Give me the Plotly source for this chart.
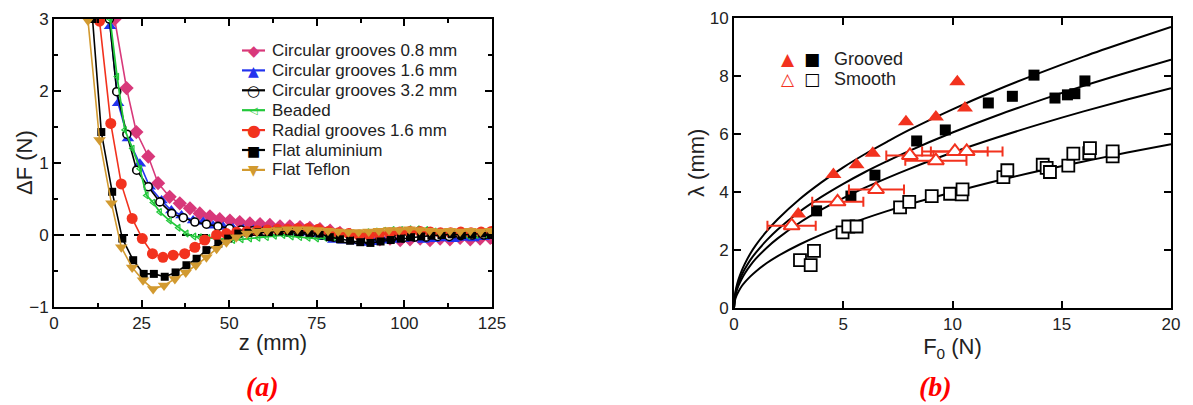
import plotly.graph_objects as go

# ---------------- Panel (a) data: z (mm) vs ΔF (N) ----------------
z_cg08 = [17.3, 20.7, 23.5, 26.9, 29.7, 33.0, 35.9, 38.8, 41.6, 44.5, 47.3, 50.2, 53.0, 55.9, 58.8,
          61.6, 64.5, 67.3, 70.2, 73.0, 75.9, 78.8, 81.6, 84.5, 87.3, 90.2, 93.0, 95.9, 98.8, 101.6,
          104.5, 107.3, 110.2, 113.0, 115.9, 118.8, 121.6, 124.5]
dF_cg08 = [3.0, 2.04, 1.43, 1.09, 0.72, 0.53, 0.44, 0.37, 0.30, 0.26, 0.22, 0.20, 0.18, 0.16, 0.15,
           0.14, 0.12, 0.12, 0.11, 0.10, 0.08, 0.06, 0.03, 0.0, -0.03, -0.05, -0.06, -0.05, -0.07, -0.06,
           -0.05, -0.07, -0.05, -0.06, -0.04, -0.06, -0.05, -0.04]

z_cg16 = [16.0, 18.3, 21.1, 24.5, 27.3, 30.7, 33.5, 36.4, 39.7, 42.6, 45.4, 48.3, 51.1, 54.0, 56.9,
          59.7, 62.6, 65.4, 68.3, 71.1, 74.0, 76.9, 79.7, 82.6, 85.4, 88.3, 91.1, 94.0, 96.9, 99.7,
          102.6, 105.4, 108.3, 111.1, 114.0, 116.9, 119.7, 122.6, 124.8]
dF_cg16 = [2.9, 1.83, 1.34, 0.99, 0.67, 0.48, 0.34, 0.27, 0.20, 0.18, 0.13, 0.11, 0.09, 0.08, 0.07,
           0.06, 0.06, 0.05, 0.04, 0.03, 0.01, -0.03, -0.07, -0.08, -0.09, -0.11, -0.10, -0.08, -0.07, -0.06,
           -0.05, -0.07, -0.06, -0.05, -0.06, -0.04, -0.05, -0.03, 0.0]

z_cg32 = [15.8, 17.9, 20.8, 23.6, 26.9, 30.2, 33.6, 36.9, 40.2, 43.5, 46.8, 50.1, 53.4, 56.7, 60.0,
          63.3, 66.6, 69.9, 73.2, 76.5, 79.8, 83.1, 86.4, 89.7, 93.0, 96.3, 99.6, 102.9, 106.2, 109.5,
          112.8, 116.1, 119.4, 122.7]
dF_cg32 = [3.0, 1.99, 1.40, 0.90, 0.67, 0.46, 0.30, 0.24, 0.18, 0.15, 0.12, 0.09, 0.07, 0.06, 0.05,
           0.05, 0.04, 0.03, 0.02, 0.0, -0.03, -0.05, -0.06, -0.07, -0.06, -0.05, -0.04, -0.03, -0.03, -0.02,
           -0.02, -0.01, 0.0, 0.0]

z_bead = [16.0, 18.0, 20.2, 22.4, 24.5, 26.4, 28.3, 30.2, 33.0, 35.5, 37.8, 40.0, 41.6, 44.0, 46.4,
          48.8, 51.1, 53.5, 55.9, 58.3, 60.7, 63.0, 65.4, 67.8, 70.2, 72.6, 75.0, 77.4, 79.8, 82.2,
          84.6, 87.0, 89.4, 91.8, 94.2, 96.6, 99.0, 101.4, 103.8, 106.2, 108.6, 111.0, 113.4, 115.8, 118.2,
          120.6, 123.0, 125.0]
dF_bead = [3.0, 2.2, 1.46, 1.2, 0.92, 0.55, 0.45, 0.32, 0.2, 0.1, 0.02, -0.02, -0.03, -0.04, -0.05,
           -0.06, -0.07, -0.06, -0.05, -0.04, -0.03, -0.01, 0.0, -0.02, -0.03, -0.04, -0.05, -0.04, -0.03, -0.02,
           0.0, 0.02, 0.04, 0.05, 0.06, 0.07, 0.07, 0.08, 0.08, 0.07, 0.05, 0.03, 0.01, 0.0, -0.01,
           0.0, 0.01, 0.0]

z_rad = [13.0, 16.2, 19.2, 22.3, 25.2, 28.1, 31.1, 34.0, 37.3, 40.2, 43.0, 46.4, 49.2, 52.1, 55.0,
         58.0, 60.9, 63.8, 66.7, 69.6, 72.5, 75.4, 78.3, 81.2, 84.1, 87.0, 90.0, 92.9, 95.8, 98.7,
         101.6, 104.5, 107.4, 110.3, 113.2, 116.1, 119.0, 121.9, 124.8]
dF_rad = [2.97, 1.55, 0.71, 0.23, -0.05, -0.26, -0.31, -0.28, -0.26, -0.17, -0.07, 0.0, 0.02, 0.04, 0.05,
          0.06, 0.07, 0.08, 0.08, 0.09, 0.09, 0.08, 0.05, 0.03, 0.02, 0.0, 0.0, 0.01, 0.03, 0.04,
          0.05, 0.05, 0.04, 0.03, 0.03, 0.04, 0.03, 0.04, 0.05]

z_al = [11.0, 13.5, 16.6, 19.5, 22.6, 25.6, 28.5, 31.6, 34.7, 37.8, 40.7, 43.5, 46.9, 49.7, 52.6,
        55.5, 58.4, 61.3, 64.2, 67.1, 70.0, 72.9, 75.8, 78.7, 81.6, 84.5, 87.4, 90.3, 93.2, 96.1,
        99.0, 101.9, 104.8, 107.7, 110.6, 113.5, 116.4, 119.3, 122.2, 124.8]
dF_al = [3.0, 1.43, 0.6, -0.05, -0.35, -0.54, -0.54, -0.58, -0.52, -0.42, -0.33, -0.21, -0.12, -0.05, 0.02,
         0.03, 0.04, 0.04, 0.05, 0.05, 0.04, 0.03, 0.02, -0.03, -0.06, -0.08, -0.1, -0.11, -0.09, -0.07,
         -0.05, -0.03, -0.02, -0.01, 0.0, 0.01, 0.0, 0.01, 0.02, 0.0]

z_tef = [9.7, 13.0, 16.4, 19.2, 22.3, 25.4, 28.3, 31.4, 34.5, 37.6, 40.5, 43.5, 46.4, 49.2, 52.0,
         55.0, 57.9, 60.8, 63.7, 66.6, 69.5, 72.4, 75.3, 78.2, 81.1, 84.0, 86.9, 89.8, 92.7, 95.6,
         98.5, 101.4, 104.3, 107.2, 110.1, 113.0, 115.9, 118.8, 121.7, 124.6]
dF_tef = [2.98, 1.32, 0.44, -0.17, -0.45, -0.63, -0.75, -0.7, -0.61, -0.52, -0.42, -0.31, -0.19, -0.1, -0.03,
          0.02, 0.05, 0.06, 0.07, 0.08, 0.08, 0.08, 0.07, 0.06, 0.05, 0.04, 0.04, 0.05, 0.06, 0.07,
          0.07, 0.08, 0.07, 0.06, 0.05, 0.06, 0.05, 0.06, 0.05, 0.06]

# ---------------- Panel (b) data: F0 (N) vs λ (mm) ----------------
gr_tri_F = [2.94, 4.55, 5.61, 6.35, 7.87, 9.24, 10.22, 10.57]
gr_tri_L = [3.24, 4.6, 4.94, 5.34, 6.42, 6.59, 7.8, 6.9]

gr_sq_F = [3.78, 5.35, 6.45, 8.36, 9.67, 11.64, 12.74, 13.73, 14.69, 15.26, 15.6, 16.06]
gr_sq_L = [3.35, 3.86, 4.58, 5.76, 6.14, 7.07, 7.3, 8.03, 7.24, 7.35, 7.39, 7.83]

sm_tri_F = [2.64, 4.74, 6.5, 8.05, 9.24, 10.11, 10.65]
sm_tri_L = [2.84, 3.66, 4.09, 5.26, 5.08, 5.4, 5.4]
sm_tri_err_minus = [1.11, 1.16, 1.24, 1.08, 1.4, 1.5, 1.64]
sm_tri_err_plus = [1.10, 1.18, 1.28, 1.08, 1.4, 1.5, 1.64]

sm_sq_F = [3.02, 3.51, 3.66, 4.97, 5.23, 5.61, 7.6, 8.02, 9.05, 9.89, 10.42, 10.46, 12.33, 12.51,
           14.13, 14.31, 14.46, 15.3, 15.53, 16.26, 16.29, 17.33, 17.33]
sm_sq_L = [1.65, 1.48, 1.97, 2.61, 2.81, 2.81, 3.47, 3.66, 3.86, 3.94, 3.92, 4.09, 4.51, 4.75,
           4.94, 4.83, 4.69, 4.91, 5.32, 5.34, 5.51, 5.23, 5.4]

fit_F = [0, 0.05, 0.1, 0.2, 0.35, 0.5, 0.75, 1, 1.5, 2, 3, 4, 5, 6, 7, 8, 10, 12, 14, 16, 18, 20]
fit_1 = [0, 0.48, 0.69, 0.97, 1.28, 1.53, 1.88, 2.17, 2.65, 3.06, 3.75, 4.33, 4.85, 5.31, 5.73, 6.13,
         6.85, 7.51, 8.11, 8.67, 9.19, 9.69]
fit_2 = [0, 0.43, 0.61, 0.86, 1.13, 1.35, 1.66, 1.91, 2.34, 2.71, 3.32, 3.83, 4.28, 4.69, 5.06, 5.41,
         6.05, 6.63, 7.16, 7.66, 8.12, 8.56]
fit_3 = [0, 0.38, 0.54, 0.76, 1.00, 1.20, 1.47, 1.70, 2.08, 2.40, 2.94, 3.39, 3.79, 4.15, 4.48, 4.79,
         5.36, 5.87, 6.34, 6.78, 7.19, 7.58]
fit_4 = [0, 0.28, 0.40, 0.56, 0.75, 0.89, 1.09, 1.26, 1.55, 1.79, 2.19, 2.53, 2.82, 3.09, 3.34, 3.57,
         3.99, 4.38, 4.73, 5.05, 5.36, 5.65]

legend_a = ["Circular grooves 0.8 mm", "Circular grooves 1.6 mm", "Circular grooves 3.2 mm",
            "Beaded", "Radial grooves 1.6 mm", "Flat aluminium", "Flat Teflon"]

FONT = "Liberation Sans, Arial, Helvetica, sans-serif"
W, H = 1193, 405
OFF = 8  # page body margin of the browser: shift layout so the photo lines up


def px(x, y):
    """screen pixel -> paper coordinate"""
    return (x - OFF) / W, 1 - (y - OFF) / H


def dom_x(a, b):
    return [(a - OFF) / W, (b - OFF) / W]


def dom_y(top, bottom):
    return [1 - (bottom - OFF) / H, 1 - (top - OFF) / H]


fig = go.Figure()

pink, blue, green, red, gold = "#d8387a", "#2233ee", "#22c83a", "#f2321e", "#d29a30"


def add_a(x, y, color, symbol, size, fill=None, lw=1.6):
    fig.add_trace(go.Scatter(
        x=x, y=y, mode="lines+markers", showlegend=False,
        line=dict(color=color, width=lw),
        marker=dict(symbol=symbol, size=size, color=fill if fill else color,
                    line=dict(color=color, width=1.6 if fill else 0)),
        xaxis="x", yaxis="y"))


add_a(z_cg08, dF_cg08, pink, "diamond", 11)
add_a(z_cg16, dF_cg16, blue, "triangle-up", 11)
add_a(z_cg32, dF_cg32, "black", "circle", 8, fill="white")
fig.add_trace(go.Scatter(
    x=z_bead, y=dF_bead, mode="lines+markers", showlegend=False,
    line=dict(color=green, width=1.8),
    marker=dict(symbol="triangle-left-open", size=6, color=green, line=dict(color=green, width=1.2)),
    xaxis="x", yaxis="y"))
add_a(z_rad, dF_rad, red, "circle", 11)
add_a(z_al, dF_al, "black", "square", 8)
add_a(z_tef, dF_tef, gold, "triangle-down", 11)

# ---- panel (b) traces
for fy in (fit_1, fit_2, fit_3, fit_4):
    fig.add_trace(go.Scatter(x=fit_F, y=fy, mode="lines", line=dict(color="black", width=2, shape="spline"),
                             showlegend=False, xaxis="x2", yaxis="y2", hoverinfo="skip"))

fig.add_trace(go.Scatter(x=sm_sq_F, y=sm_sq_L, mode="markers", showlegend=False, xaxis="x2", yaxis="y2",
                         marker=dict(symbol="square", size=12, color="white", line=dict(color="black", width=1.8))))
fig.add_trace(go.Scatter(x=gr_sq_F, y=gr_sq_L, mode="markers", showlegend=False, xaxis="x2", yaxis="y2",
                         marker=dict(symbol="square", size=11, color="black")))
fig.add_trace(go.Scatter(x=sm_tri_F, y=sm_tri_L, mode="markers", showlegend=False, xaxis="x2", yaxis="y2",
                         error_x=dict(type="data", symmetric=False, array=sm_tri_err_plus,
                                      arrayminus=sm_tri_err_minus, color=red, thickness=2, width=5),
                         marker=dict(symbol="triangle-up", size=14, color="white", line=dict(color=red, width=2))))
fig.add_trace(go.Scatter(x=gr_tri_F, y=gr_tri_L, mode="markers", showlegend=False, xaxis="x2", yaxis="y2",
                         marker=dict(symbol="triangle-up", size=14, color=red)))


# ---- axes
def axis_style(**kw):
    d = dict(showline=True, linecolor="black", linewidth=2, mirror="ticks", ticks="inside",
             ticklen=7, tickwidth=2, tickcolor="black", showgrid=False, zeroline=False,
             tickfont=dict(family=FONT, size=17, color="#222"), automargin=False,
             ticklabeloverflow="allow",
             title_font=dict(family=FONT, size=22, color="#222"))
    d.update(kw)
    return d


fig.update_layout(
    width=W, height=H, margin=dict(l=0, r=0, t=0, b=0),
    paper_bgcolor="white", plot_bgcolor="white", showlegend=False,
    xaxis=axis_style(domain=dom_x(54, 492), range=[0, 125], tickvals=[0, 25, 50, 75, 100, 125],
                     minor=dict(ticks="inside", ticklen=4, tickwidth=1.5, dtick=12.5, tickcolor="black"),
                     title=dict(text="z (mm)", standoff=2), anchor="y"),
    yaxis=axis_style(domain=dom_y(19, 307), range=[-1, 3], tickvals=[-1, 0, 1, 2, 3],
                     minor=dict(ticks="inside", ticklen=4, tickwidth=1.5, dtick=0.5, tickcolor="black"),
                     anchor="x"),
    xaxis2=axis_style(domain=dom_x(734, 1171), range=[0, 20], tickvals=[0, 5, 10, 15, 20],
                      title=dict(text="F<sub>0</sub> (N)", standoff=2), anchor="y2"),
    yaxis2=axis_style(domain=dom_y(18, 308), range=[0, 10], tickvals=[0, 2, 4, 6, 8, 10],
                      anchor="x2"),
)

# y-axis titles as rotated annotations for exact placement
for txt, xp, yp in (("ΔF (N)", 25, 163), ("λ (mm)", 697, 163)):
    ax, ay = px(xp, yp)
    fig.add_annotation(x=ax, y=ay, xref="paper", yref="paper", showarrow=False, text=txt, textangle=-90,
                       xanchor="center", yanchor="middle", font=dict(family=FONT, size=22, color="#222"))

fig.add_shape(type="line", xref="x", yref="y", x0=0, x1=125, y0=0, y1=0, layer="below",
              line=dict(color="black", width=2, dash="10px,6px"))

# ---- panel (a) legend (drawn manually to match the tight row spacing)
leg_style = [(pink, "◆", 15), (blue, "▲", 14), ("black", "○", 15), (green, "◁", 10),
             (red, "●", 16), ("black", "■", 14), (gold, "▼", 14)]
for i, (name, (c, g, gs)) in enumerate(zip(legend_a, leg_style)):
    yc = 50.5 + 19.9 * i
    x0, y0 = px(242, yc)
    x1, _ = px(265, yc)
    fig.add_shape(type="line", xref="paper", yref="paper", x0=x0, x1=x1, y0=y0, y1=y0,
                  line=dict(color=c, width=2.2))
    gx, gy = px(253.5, yc + 0.5)
    fig.add_annotation(x=gx, y=gy, xref="paper", yref="paper", showarrow=False, text=g,
                       xanchor="center", yanchor="middle",
                       font=dict(family="DejaVu Sans", size=gs, color=c))
    tx, ty = px(270, yc)
    fig.add_annotation(x=tx, y=ty, xref="paper", yref="paper", showarrow=False, text=name,
                       xanchor="left", yanchor="middle",
                       font=dict(family=FONT, size=17, color="#222"))

# ---- panel labels
for txt, xp in (("(a)", 262), ("(b)", 935)):
    ax, ay = px(xp, 386)
    fig.add_annotation(x=ax, y=ay, xref="paper", yref="paper", showarrow=False,
                       xanchor="center", yanchor="middle", text=f"<b><i>{txt}</i></b>",
                       font=dict(family="Liberation Serif, Times New Roman, serif", size=28, color="#ff0000"))

# ---- panel (b) legend
leg_b = [("▲", red, 788, 59), ("■", "black", 812, 59), ("△", red, 788, 79), ("□", "black", 812, 79)]
for g, c, xp, yp in leg_b:
    ax, ay = px(xp, yp)
    fig.add_annotation(x=ax, y=ay, xref="paper", yref="paper", showarrow=False, text=g,
                       xanchor="center", yanchor="middle",
                       font=dict(family="DejaVu Sans", size=17, color=c))
for t, yp in (("Grooved", 59), ("Smooth", 79)):
    ax, ay = px(832, yp)
    fig.add_annotation(x=ax, y=ay, xref="paper", yref="paper", showarrow=False, text=t,
                       xanchor="left", yanchor="middle", font=dict(family=FONT, size=18, color="#222"))

fig.write_html("out.html")
